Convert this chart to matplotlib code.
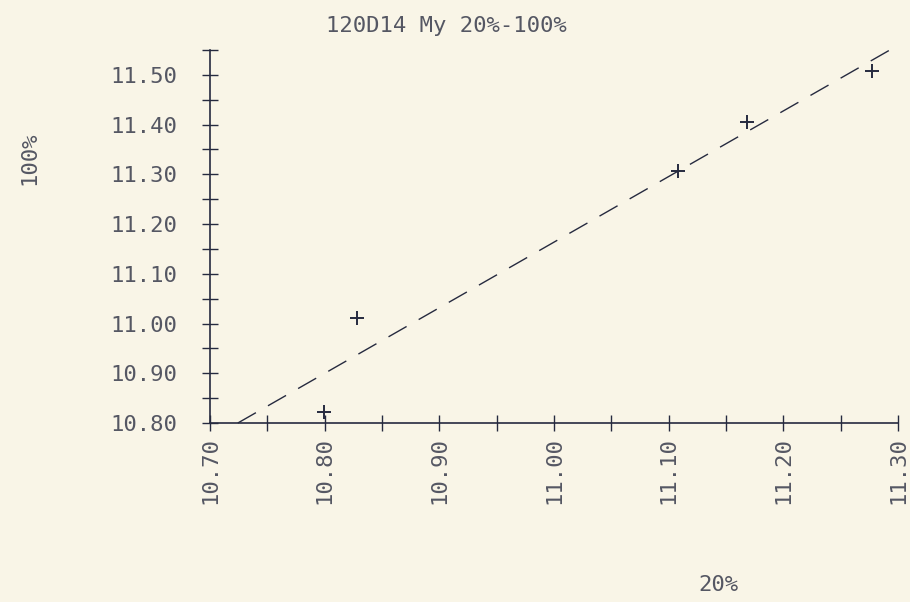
import numpy as np
import matplotlib
matplotlib.use("Agg")
import matplotlib.pyplot as plt
from matplotlib.ticker import MultipleLocator, FuncFormatter

# Measurements: 20% value (x) against 100% value (y)
x_20 = [10.799, 10.828, 11.108, 11.168, 11.277]
y_100 = [10.823, 11.012, 11.307, 11.406, 11.508]

title = "120D14 My 20%-100%"
xlabel = "20%"
ylabel = "100%"

ink = "#262a3f"
text_col = "#555763"
paper = "#f9f5e7"
mono = "DejaVu Sans Mono"

fig = plt.figure(figsize=(9.10, 6.02), dpi=100, facecolor=paper)
ax = fig.add_axes([0.2308, 0.2973, 0.7560, 0.6196])
ax.set_facecolor(paper)

ax.set_xlim(10.70, 11.30)
ax.set_ylim(10.80, 11.55)

# Least-squares line through the points, clipped to the y axis floor
slope, icpt = np.polyfit(x_20, y_100, 1)
x0 = (10.80 - icpt) / slope
xs = np.array([x0, 11.30])
ax.plot(xs, slope * xs + icpt, color=ink, lw=1.0, dashes=(15, 10),
        clip_on=False, zorder=2)

ax.plot(x_20, y_100, linestyle="none", marker="+", markersize=10,
        markeredgewidth=1.4, color=ink, clip_on=False, zorder=3)

# Axes: only left and bottom, with cross ticks
for side in ("top", "right"):
    ax.spines[side].set_visible(False)
for side in ("left", "bottom"):
    ax.spines[side].set_color(ink)
    ax.spines[side].set_linewidth(1.2)

ax.xaxis.set_major_locator(MultipleLocator(0.10))
ax.xaxis.set_minor_locator(MultipleLocator(0.05))
ax.yaxis.set_major_locator(MultipleLocator(0.10))
ax.yaxis.set_minor_locator(MultipleLocator(0.05))

fmt = FuncFormatter(lambda v, p: f"{v:.2f}")
ax.xaxis.set_major_formatter(fmt)
ax.yaxis.set_major_formatter(fmt)

ax.tick_params(which="both", direction="inout", length=11, width=1.0,
               color=ink)
ax.tick_params(axis="y", which="major", pad=18, labelsize=16,
               labelcolor=text_col)
ax.tick_params(axis="x", which="major", pad=5, labelsize=16,
               labelcolor=text_col, labelrotation=90)
for lab in ax.get_xticklabels() + ax.get_yticklabels():
    lab.set_family(mono)

fig.text(0.491, 0.957, title, ha="center", va="center", fontsize=16,
         family=mono, color=text_col)
fig.text(0.789, 0.028, xlabel, ha="center", va="center", fontsize=16,
         family=mono, color=text_col)
fig.text(0.032, 0.737, ylabel, ha="center", va="center", fontsize=16,
         family=mono, color=text_col, rotation=90)

fig.savefig("out.png", dpi=100, facecolor=paper)
